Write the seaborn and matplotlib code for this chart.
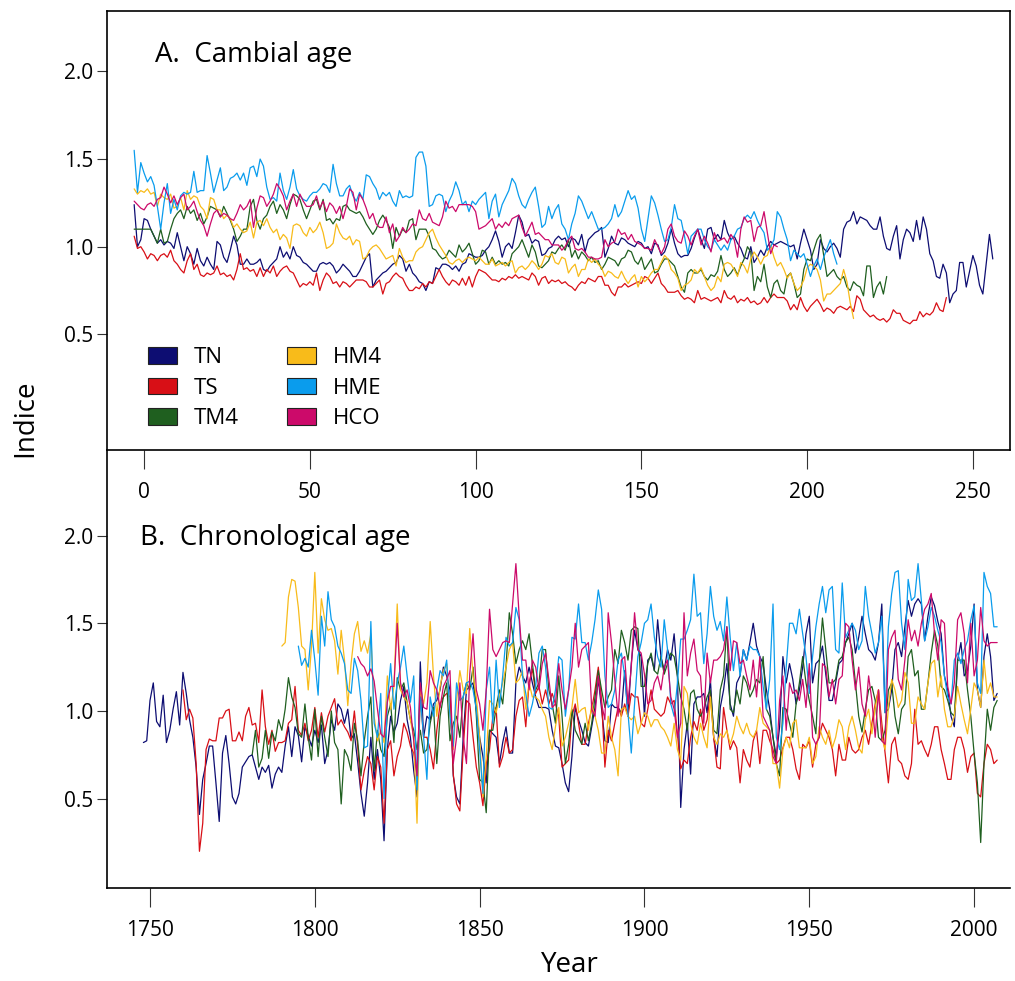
import numpy as np
import pandas as pd
import matplotlib
matplotlib.use('Agg')
import matplotlib.pyplot as plt
from matplotlib.patches import Patch
import seaborn as sns

# --- data ---
series_names = ['TN', 'TS', 'TM4', 'HM4', 'HME', 'HCO']
series_colors = ['#0d0d72', '#d80f16', '#1f5f1f', '#f8bb1a', '#0a9ced', '#cc0a6a']
start_years = [1748, 1760, 1781, 1790, 1795, 1813]   # first year of each chronology
cambial_start = -3                                    # first cambial age of every series

# A. cambial age
tn_cambial = [
    1.24, 1.00, 1.04, 1.16, 1.15, 1.10, 1.06, 1.02, 1.04, 1.01,
    1.03, 1.02, 0.99, 1.08, 1.00, 0.92, 1.00, 0.96, 0.90, 0.99,
    0.92, 0.89, 0.94, 0.90, 0.87, 1.03, 1.01, 0.94, 0.91, 0.98,
    1.06, 1.01, 0.90, 0.90, 0.93, 0.90, 0.90, 0.91, 0.93, 0.87,
    0.86, 0.89, 0.91, 0.93, 1.00, 0.94, 0.97, 0.93, 1.00, 0.95,
    0.94, 0.91, 0.90, 0.88, 0.86, 0.86, 0.90, 0.91, 0.90, 0.91,
    0.89, 0.85, 0.87, 0.90, 0.88, 0.86, 0.83, 0.83, 0.86, 0.90,
    0.94, 0.96, 0.77, 0.81, 0.83, 0.85, 0.86, 0.88, 0.90, 0.91,
    0.95, 0.93, 0.86, 0.90,
    0.85, 0.83, 0.80, 0.79, 0.75, 0.80, 0.79, 0.88, 0.87, 0.90,
    0.90, 0.89, 0.87, 0.89, 0.86, 0.90, 0.91, 0.96, 0.95, 0.94,
    0.94, 0.95, 0.98, 1.00, 1.04, 1.09, 1.03, 0.94, 1.00, 1.02,
    0.99, 1.08, 1.18, 1.14, 1.06, 1.07, 1.02, 1.04, 1.03, 0.95,
    0.96, 0.99, 1.00, 1.04, 1.06, 1.04, 1.05, 1.00, 1.05, 1.04,
    1.01, 1.07, 0.97, 1.04, 1.06, 1.08, 1.09, 1.11, 0.94, 0.99,
    1.06, 1.02, 1.01, 1.05, 1.04, 1.02, 1.01, 1.00, 1.03, 1.02,
    0.99, 1.00, 0.96, 1.02, 1.01, 0.95, 0.97, 1.02, 1.10, 1.02,
    0.96, 0.94, 0.95, 0.95, 0.99, 1.05,
    1.10, 1.04, 0.99, 1.10, 1.11, 1.04, 1.07, 1.04, 1.15, 1.08,
    1.04, 1.06, 1.02, 0.99, 0.94, 0.93, 1.00, 0.91, 0.94, 0.98,
    0.95, 1.00, 1.03, 1.01, 1.02, 1.03, 1.02, 1.01, 1.00, 1.01,
    0.93, 1.02, 1.10, 1.04, 0.98, 0.87, 0.90, 1.04, 0.99, 0.97,
    1.00, 1.02, 0.99, 0.94, 1.10, 1.14, 1.15, 1.20, 1.13, 1.17,
    1.16, 1.15, 1.12, 1.10, 1.10, 1.17, 1.06, 0.99, 0.98, 1.06,
    1.12, 0.93, 1.04, 1.10, 1.08, 1.03, 1.15, 1.04, 1.17, 1.10,
    0.96, 0.92, 0.83, 0.82, 0.90, 0.85, 0.68, 0.73, 0.75, 0.91,
    0.91, 0.77, 0.86, 0.95, 0.89, 0.78, 0.73, 0.90, 1.07, 0.93]
ts_cambial = [
    1.06, 0.99, 1.00, 0.97, 0.93, 0.96, 0.95, 0.92, 0.95, 0.96,
    0.94, 0.98, 0.92, 0.90, 0.87, 0.85, 0.92, 0.96, 0.87, 0.90,
    0.84, 0.83, 0.85, 0.84, 0.85, 0.89, 0.84, 0.85, 0.83, 0.84,
    0.81, 0.87, 0.96, 0.87, 0.88, 0.86, 0.87, 0.83, 0.88, 0.83,
    0.87, 0.85, 0.89, 0.83, 0.86, 0.88, 0.89, 0.86, 0.85, 0.81,
    0.77, 0.79, 0.78, 0.80, 0.78, 0.85, 0.75, 0.81, 0.85, 0.83,
    0.79, 0.80, 0.77, 0.80, 0.79, 0.77, 0.79, 0.81, 0.81, 0.81,
    0.80, 0.77, 0.77, 0.79, 0.81, 0.73, 0.79, 0.80, 0.83, 0.85,
    0.83, 0.82, 0.78, 0.75,
    0.75, 0.77, 0.76, 0.79, 0.77, 0.80, 0.79, 0.83, 0.87, 0.83,
    0.80, 0.78, 0.81, 0.80, 0.78, 0.82, 0.78, 0.83, 0.77, 0.83,
    0.87, 0.86, 0.85, 0.83, 0.81, 0.81, 0.80, 0.82, 0.81, 0.83,
    0.82, 0.84, 0.82, 0.83, 0.82, 0.81, 0.85, 0.83, 0.78, 0.82,
    0.83, 0.79, 0.81, 0.80, 0.81, 0.79, 0.80, 0.78, 0.77, 0.75,
    0.78, 0.80, 0.79, 0.82, 0.81, 0.80, 0.83, 0.83, 0.78, 0.78,
    0.74, 0.72, 0.77, 0.77, 0.79, 0.77, 0.78, 0.79, 0.80, 0.79,
    0.83, 0.82, 0.79, 0.82, 0.85, 0.79, 0.77, 0.74, 0.74, 0.74,
    0.75, 0.72, 0.70, 0.71, 0.70, 0.68,
    0.75, 0.70, 0.71, 0.70, 0.69, 0.70, 0.71, 0.68, 0.75, 0.71,
    0.70, 0.72, 0.68, 0.70, 0.69, 0.71, 0.68, 0.69, 0.67, 0.68,
    0.71, 0.68, 0.71, 0.73, 0.71, 0.71, 0.71, 0.69, 0.64, 0.67,
    0.64, 0.71, 0.66, 0.63, 0.66, 0.68, 0.70, 0.67, 0.63, 0.65,
    0.64, 0.62, 0.65, 0.66, 0.65, 0.64, 0.66, 0.63, 0.72, 0.70,
    0.64, 0.62, 0.60, 0.61, 0.59, 0.58, 0.59, 0.57, 0.59, 0.64,
    0.62, 0.62, 0.58, 0.57, 0.56, 0.58, 0.58, 0.63, 0.60, 0.62,
    0.61, 0.63, 0.68, 0.64, 0.63, 0.71]
tm4_cambial = [
    1.10, 1.10, 1.10, 1.10, 1.10, 1.10, 1.06, 1.02, 1.10, 1.02,
    1.03, 1.10, 1.16, 1.19, 1.21, 1.16, 1.23, 1.19, 1.21, 1.15,
    1.19, 1.13, 1.17, 1.23, 1.22, 1.21, 1.17, 1.23, 1.19, 1.15,
    1.10, 1.03, 1.06, 1.10, 1.10, 1.23, 1.27, 1.15, 1.10, 1.16,
    1.18, 1.23, 1.26, 1.19, 1.24, 1.21, 1.16, 1.24, 1.30, 1.29,
    1.27, 1.21, 1.16, 1.21, 1.26, 1.27, 1.21, 1.27, 1.15, 1.16,
    1.13, 1.16, 1.15, 1.23, 1.24, 1.21, 1.20, 1.19, 1.20, 1.17,
    1.13, 1.10, 1.07, 1.10, 1.15, 1.18, 1.15, 1.11, 0.99, 1.11,
    1.06, 1.10, 1.08, 1.15,
    1.16, 1.04, 1.10, 1.10, 1.10, 1.06, 0.99, 0.98, 0.95, 0.93,
    0.94, 0.98, 0.96, 0.94, 1.01, 0.97, 0.99, 1.02, 0.96, 0.90,
    0.92, 0.98, 0.97, 0.90, 0.94, 0.90, 0.92, 0.90, 0.91, 0.89,
    0.96, 0.98, 1.00, 1.04, 0.99, 0.94, 1.01, 0.97, 0.89, 0.88,
    0.90, 0.92, 0.97, 0.96, 0.99, 1.01, 0.98, 1.04, 0.94, 0.98,
    0.93, 0.97, 0.95, 0.92, 0.94, 0.91, 0.92, 0.87, 0.90, 0.94,
    0.93, 0.92, 0.89, 0.93, 0.94, 0.98, 0.97, 0.92, 0.90, 0.94,
    0.87, 0.90, 0.93, 0.85, 0.86, 0.90, 0.93, 0.93, 0.91, 0.89,
    0.83, 0.77, 0.74, 0.85, 0.87, 0.85,
    0.85, 0.87, 0.83, 0.81, 0.84, 0.83, 0.86, 0.95, 0.87, 0.83,
    0.85, 0.88, 0.84, 0.89, 0.93, 1.00, 0.97, 0.75, 0.83, 0.80,
    0.90, 0.77, 0.71, 0.79, 0.81, 0.75, 0.73, 0.83, 0.85, 0.79,
    0.71, 0.73, 0.87, 0.93, 0.92, 0.98, 1.04, 1.07, 0.95, 0.83,
    0.85, 0.87, 0.83, 0.81, 0.83, 0.77, 0.75, 0.80, 0.78, 0.77,
    0.72, 0.89, 0.89, 0.71, 0.77, 0.80, 0.73, 0.83]
hm4_cambial = [
    1.33, 1.30, 1.32, 1.31, 1.33, 1.30, 1.31, 1.23, 1.30, 1.28,
    1.27, 1.30, 1.22, 1.23, 1.28, 1.21, 1.32, 1.27, 1.29, 1.28,
    1.23, 1.21, 1.16, 1.28, 1.27, 1.21, 1.21, 1.16, 1.18, 1.16,
    1.11, 1.13, 1.10, 1.08, 1.09, 1.14, 1.05, 1.14, 1.15, 1.12,
    1.16, 1.11, 1.08, 1.10, 1.04, 1.07, 1.05, 0.99, 1.12, 1.13,
    1.12, 1.08, 1.06, 1.11, 1.08, 1.10, 1.14, 1.08, 0.99, 1.00,
    1.02, 1.13, 1.08, 1.05, 1.04, 1.06, 1.01, 1.04, 1.03, 0.93,
    0.94, 0.98, 1.00, 1.01, 0.99, 0.96, 0.93, 0.94, 0.95, 0.89,
    0.99, 0.94, 0.91, 0.92,
    0.92, 0.97, 0.99, 1.00, 1.04, 1.08, 1.10, 1.05, 1.01, 0.98,
    0.95, 0.91, 0.90, 0.92, 0.93, 0.91, 0.93, 0.94, 0.93, 0.92,
    0.94, 0.92, 0.90, 0.90, 0.93, 0.89, 0.90, 0.91, 0.89, 0.91,
    0.92, 0.85, 0.88, 0.89, 0.87, 0.89, 0.92, 0.90, 0.87, 0.90,
    0.95, 0.94, 0.96, 0.91, 0.90, 0.94, 0.93, 0.85, 0.88, 0.90,
    0.83, 0.87, 0.87, 0.93, 0.91, 0.93, 0.90, 0.88, 0.83, 0.86,
    0.85, 0.83, 0.82, 0.86, 0.82, 0.79, 0.82, 0.84, 0.77, 0.83,
    0.80, 0.82, 0.85, 0.87, 0.87, 0.91, 0.95, 0.93, 0.87, 0.85,
    0.82, 0.75, 0.78, 0.79, 0.81, 0.87,
    0.85, 0.88, 0.83, 0.78, 0.75, 0.77, 0.83, 0.80, 0.90, 0.91,
    0.90, 0.87, 0.83, 0.91, 0.89, 0.85, 0.93, 0.97, 0.94, 0.90,
    0.94, 0.95, 1.01, 0.94, 0.89, 0.91, 0.87, 0.82, 0.85, 0.79,
    0.75, 0.77, 0.81, 0.88, 0.90, 0.89, 0.87, 0.81, 0.69, 0.73,
    0.73, 0.75, 0.77, 0.79, 0.87, 0.80, 0.68, 0.59]
hme_cambial = [
    1.55, 1.31, 1.48, 1.42, 1.37, 1.40, 1.35, 1.23, 1.10, 1.25,
    1.36, 1.19, 1.27, 1.21, 1.29, 1.31, 1.30, 1.31, 1.43, 1.31,
    1.32, 1.32, 1.52, 1.42, 1.31, 1.38, 1.45, 1.32, 1.34, 1.39,
    1.40, 1.42, 1.38, 1.42, 1.35, 1.45, 1.46, 1.40, 1.50, 1.46,
    1.34, 1.27, 1.28, 1.26, 1.42, 1.32, 1.27, 1.34, 1.44, 1.33,
    1.29, 1.27, 1.26, 1.29, 1.31, 1.31, 1.33, 1.36, 1.35, 1.31,
    1.47, 1.36, 1.29, 1.29, 1.33, 1.35, 1.29, 1.26, 1.31, 1.27,
    1.41, 1.40, 1.36, 1.33, 1.27, 1.31, 1.29, 1.31, 1.26, 1.23,
    1.32, 1.28, 1.29, 1.28, 1.29, 1.51, 1.54, 1.54, 1.46, 1.23,
    1.24, 1.29, 1.30, 1.29, 1.20, 1.26, 1.30, 1.37, 1.32, 1.24,
    1.26, 1.20, 1.26, 1.24, 1.27, 1.29, 1.31, 1.16, 1.26, 1.30,
    1.17, 1.24, 1.28, 1.32, 1.39, 1.36, 1.29, 1.24, 1.22, 1.27,
    1.31, 1.34, 1.23, 1.11, 1.13, 1.23, 1.16, 1.21, 1.24, 1.13,
    1.10, 1.04, 1.13, 1.19, 1.29, 1.26, 1.21, 1.16, 1.20, 1.15,
    1.10, 1.10, 1.11, 1.13, 1.16, 1.24, 1.17, 1.20, 1.26, 1.32,
    1.27, 1.29, 1.22, 1.10, 1.03, 1.16, 1.29, 1.25, 1.18, 1.10,
    1.03, 1.04, 1.11, 1.24, 1.16, 1.15, 1.06, 0.96, 1.06, 1.08,
    1.10, 1.10, 1.04, 1.00, 0.98, 1.04, 1.01, 0.98, 1.01, 0.98,
    1.04, 1.06, 1.10, 1.11, 1.16, 1.18, 1.16, 1.20, 1.15, 1.11,
    1.08, 0.98, 1.00, 1.04, 1.20, 1.17, 1.10, 1.04, 0.92, 0.98,
    0.96, 0.94, 0.96, 0.90, 0.83, 0.89, 0.93, 0.87, 0.94, 0.99,
    1.04, 0.96, 0.90]
hco_cambial = [
    1.26, 1.24, 1.22, 1.21, 1.24, 1.25, 1.23, 1.27, 1.28, 1.34,
    1.30, 1.25, 1.29, 1.24, 1.28, 1.30, 1.21, 1.23, 1.26, 1.20,
    1.15, 1.12, 1.06, 1.13, 1.19, 1.21, 1.17, 1.19, 1.18, 1.16,
    1.15, 1.19, 1.24, 1.21, 1.23, 1.27, 1.11, 1.22, 1.29, 1.28,
    1.23, 1.26, 1.30, 1.36, 1.33, 1.29, 1.21, 1.26, 1.30, 1.23,
    1.30, 1.26, 1.23, 1.23, 1.24, 1.29, 1.22, 1.26, 1.20, 1.25,
    1.23, 1.19, 1.23, 1.16, 1.23, 1.33, 1.31, 1.21, 1.30, 1.27,
    1.22, 1.16, 1.19, 1.13, 1.11, 1.11, 1.17, 1.08, 1.13, 1.03,
    1.06, 1.11, 1.08, 1.10,
    1.13, 1.12, 1.21, 1.16, 1.15, 1.19, 1.14, 1.13, 1.12, 1.17,
    1.26, 1.22, 1.23, 1.20, 1.24, 1.24, 1.24, 1.24, 1.23, 1.20,
    1.10, 1.11, 1.12, 1.14, 1.16, 1.10, 1.13, 1.11, 1.14, 1.12,
    1.16, 1.17, 1.18, 1.11, 1.06, 1.10, 1.14, 1.07, 1.08, 1.06,
    1.04, 1.04, 1.01, 1.01, 1.01, 0.98, 1.00, 1.04, 1.06, 0.99,
    0.98, 0.99, 0.97, 0.94, 0.94, 0.93, 0.93, 0.94, 1.04, 1.00,
    1.02, 1.03, 1.10, 1.07, 1.08, 1.04, 1.07, 1.03, 1.02, 1.01,
    0.99, 0.99, 0.98, 1.04, 1.00, 0.96, 1.00, 1.10, 1.13, 1.06,
    1.03, 1.02, 1.09, 1.06, 1.01, 1.06,
    1.10, 1.01, 1.06, 1.02, 0.97, 1.08, 1.03, 1.04, 1.05, 1.02,
    1.07, 1.04, 0.94, 1.10, 1.17, 1.14, 1.15, 1.03, 1.11, 1.12,
    1.20, 1.08, 0.96, 1.01, 1.00]

# B. chronological age (calendar years, all ending in 2007)
tn_chrono = [
    0.82, 0.83, 1.06, 1.16, 0.94, 0.91, 1.09, 0.82, 0.89, 1.01,
    1.11, 0.92, 1.22, 1.10, 0.95, 0.85, 0.68, 0.41, 0.61, 0.70,
    0.80, 0.80, 0.59, 0.37, 0.76, 0.86, 0.70, 0.51, 0.47, 0.53,
    0.68, 0.71, 0.74, 0.75, 0.68, 0.61, 0.68, 0.65, 0.69, 0.56,
    0.64, 0.68, 0.65, 0.80, 0.91, 0.74, 0.91, 0.86, 0.71, 0.91,
    0.86, 0.80, 0.89, 0.82, 0.92, 0.70, 0.78, 0.95, 0.89, 1.04,
    1.01, 0.93, 1.01, 0.84, 0.87, 0.71, 0.53, 0.40, 0.59, 0.85,
    0.61, 0.78, 0.61, 0.26, 0.78, 0.97, 0.88, 0.93, 1.06, 1.14,
    0.95, 0.85,
    0.66, 0.51, 1.28, 0.85, 0.97, 0.95, 1.04, 1.06, 1.12, 1.25,
    1.20, 1.12, 0.63, 0.51, 0.47, 0.85, 1.12, 1.14, 1.16, 1.01,
    0.85, 0.74, 0.59, 0.89, 0.87, 0.85, 0.70, 0.82, 0.91, 0.76,
    0.76, 1.16, 1.25, 1.20, 1.16, 1.25, 1.16, 1.08, 1.02, 1.02,
    1.02, 1.01, 0.89, 0.80, 0.79, 0.70, 0.59, 0.54, 0.74, 1.02,
    0.95, 0.89, 0.82, 0.80, 0.91, 1.02, 1.18, 1.01, 0.83, 0.82,
    1.04, 1.02, 1.02, 0.99, 1.23, 0.97, 1.27, 1.46, 1.35, 1.31,
    0.97, 1.29, 1.31, 1.23, 1.52, 1.31, 1.23, 1.35, 1.29, 1.44,
    1.20, 0.45, 0.78, 0.93, 0.64, 1.04, 1.08,
    1.08, 1.10, 0.99, 1.18, 0.85, 0.74, 1.02, 1.12, 1.27, 1.04,
    0.97, 1.16, 1.20, 1.35, 1.29, 1.39, 1.50, 1.37, 1.31, 1.27,
    1.12, 1.01, 0.85, 0.74, 0.91, 1.31, 1.16, 1.27, 1.18, 1.04,
    1.12, 1.25, 1.44, 1.54, 1.16, 1.27, 1.29, 1.37, 1.21, 1.06,
    1.06, 1.16, 1.27, 1.29, 1.39, 1.44, 1.50, 1.33, 1.42, 1.54,
    1.44, 1.35, 1.33, 1.29, 1.39, 1.61, 0.99, 1.01, 1.12, 1.35,
    1.39, 1.31, 1.48, 1.63, 1.54, 1.61, 1.64, 1.61, 1.40, 1.54,
    1.65, 1.60, 1.51, 1.44, 1.20, 1.12, 0.97, 0.91, 1.29, 1.39,
    1.20, 1.23, 1.37, 1.61, 1.12, 1.02, 1.31, 1.44, 1.31, 1.06,
    1.10]
ts_chrono = [
    1.12, 0.95, 1.01, 0.96, 0.70, 0.20, 0.36, 0.78, 0.84, 0.83,
    0.83, 0.96, 0.96, 1.00, 1.01, 0.83, 0.83, 0.88, 0.83, 0.97,
    1.02, 0.92, 0.93, 0.82, 1.12, 0.91, 0.81, 0.89, 0.77, 0.82,
    0.82, 0.83, 0.93, 0.95, 1.14, 0.89, 0.86, 0.93, 0.83, 0.89,
    1.02, 0.85, 0.99, 0.88, 0.97, 1.02, 1.07, 0.92, 0.95, 0.91,
    0.88, 0.83, 1.00, 0.80, 0.55, 0.66, 0.74, 0.70, 0.55, 0.74,
    0.68, 0.36, 0.78, 0.83, 0.63, 0.74, 0.80, 0.93,
    0.88, 0.80,
    0.76, 0.63, 1.08, 0.85, 0.85, 0.78, 0.67, 0.89, 1.04, 1.08,
    1.10, 1.08, 0.64, 0.47, 0.43, 0.78, 1.06, 1.04, 0.85, 0.68,
    0.59, 0.46, 0.70, 0.78, 0.97, 1.02, 0.68, 0.74, 0.85, 0.76,
    0.78, 0.97, 1.06, 1.08, 0.91, 1.16, 1.24, 1.10, 1.14, 1.04,
    1.12, 1.04, 1.10, 1.04, 0.97, 0.68, 0.70, 0.72, 0.97, 1.04,
    0.93, 0.81, 0.81, 0.93, 1.01, 1.12, 1.25, 1.06, 0.68, 0.89,
    0.83, 0.93, 1.02, 0.97, 1.04, 0.97, 1.10, 1.08, 1.08, 0.93,
    0.91, 1.01, 1.12, 1.01, 0.99, 0.97, 0.99, 1.08, 1.04, 1.06,
    0.87, 0.67, 0.72, 0.70, 0.85, 0.94, 0.89,
    1.01, 0.89, 0.95, 1.10, 0.85, 0.68, 0.67, 1.02, 0.89, 0.78,
    0.83, 0.79, 0.59, 0.78, 0.72, 0.68, 0.83, 0.89, 0.70, 0.89,
    0.89, 0.83, 0.78, 0.70, 0.72, 0.79, 0.85, 0.85, 0.78, 0.67,
    0.61, 0.81, 0.79, 0.83, 0.68, 0.81, 0.85, 0.93, 0.89, 0.85,
    0.78, 0.63, 0.81, 0.72, 0.72, 0.85, 0.78, 0.76, 0.78, 0.85,
    0.89, 0.81, 0.93, 1.04, 1.12, 0.93, 0.76, 0.59, 0.81, 0.85,
    0.72, 0.70, 0.63, 0.61, 0.70, 1.01, 0.81, 0.83, 0.78, 0.74,
    0.81, 0.91, 0.91, 0.78, 0.70, 0.61, 0.61, 0.78, 0.85, 0.85,
    0.78, 0.65, 0.74, 0.76, 0.53, 0.51, 0.70, 0.81, 0.78, 0.70,
    0.72]
tm4_chrono = [
    0.75, 0.89, 0.68, 0.73, 0.89, 0.73, 0.88, 0.83, 0.95, 0.89,
    1.01, 1.19, 1.08, 1.02, 0.87, 0.85, 1.04, 0.85, 0.72, 1.01,
    0.74, 0.97, 0.85, 0.74, 1.00, 0.82, 0.78, 0.47, 0.78, 0.74,
    0.66, 0.93, 0.83, 0.63, 0.83, 0.97, 1.08, 0.66, 0.89, 0.78,
    0.74, 0.97, 1.04, 0.82, 1.19, 1.12, 1.16,
    1.05, 0.95,
    0.89, 0.78, 0.89, 0.76, 0.78, 0.93, 1.02, 0.70, 0.97, 1.08,
    1.16, 0.83, 0.93, 0.97, 0.85, 1.08, 1.16, 1.12, 1.25, 0.97,
    0.61, 0.59, 0.42, 0.89, 0.89, 1.02, 1.12, 1.04, 1.25, 1.56,
    1.44, 1.27, 1.35, 1.40, 1.35, 1.44, 1.27, 1.12, 1.16, 1.35,
    1.35, 1.12, 1.04, 0.93, 1.20, 0.97, 0.70, 0.81, 1.01, 0.89,
    0.85, 0.81, 0.93, 0.83, 0.93, 1.08, 1.23, 1.12, 1.02, 1.08,
    1.12, 1.35, 1.27, 1.46, 1.39, 1.29, 1.46, 1.48, 1.47, 1.14,
    1.14, 1.27, 1.33, 1.23, 1.21, 1.31, 1.21, 1.27, 1.33, 1.31,
    1.20, 1.08, 1.01, 0.89, 1.10, 1.12, 1.01,
    0.97, 1.01, 1.08, 1.12, 0.89, 0.87, 1.12, 1.20, 1.48, 1.01,
    0.99, 1.12, 1.04, 1.20, 1.16, 1.08, 1.12, 1.18, 1.16, 1.31,
    1.01, 0.97, 0.85, 0.70, 0.63, 1.02, 1.01, 0.93, 0.85, 1.04,
    1.16, 1.31, 1.16, 1.06, 0.97, 0.87, 1.27, 1.53, 1.35, 1.16,
    1.16, 1.18, 1.29, 1.31, 1.39, 1.42, 1.35, 1.16, 0.97, 0.88,
    1.01, 1.12, 1.14, 1.06, 0.85, 0.83, 0.89, 1.12, 1.16, 0.97,
    0.87, 1.01, 1.04, 1.31, 1.35, 1.20, 1.23, 1.01, 1.01, 1.16,
    1.33, 1.46, 1.37, 1.14, 1.12, 1.06, 0.99, 0.97, 1.29, 1.29,
    1.29, 1.12, 0.97, 0.76, 0.59, 0.25, 0.70, 1.01, 0.89, 1.02,
    1.06]
hm4_chrono = [
    1.37, 1.39, 1.65, 1.75, 1.74, 1.59, 1.37, 1.35, 1.12, 1.37,
    1.79, 1.33, 1.64, 1.52, 1.46, 1.47, 1.40, 1.21, 1.46, 1.29,
    1.03, 1.27, 1.44, 1.51, 1.34, 1.40, 1.33, 1.44, 0.97, 0.83,
    0.89, 0.82, 1.20, 1.01, 1.14, 1.61, 1.12, 1.08,
    1.05, 0.95,
    0.85, 0.36, 1.12, 1.04, 1.16, 1.51, 1.20, 0.97, 1.14, 1.23,
    1.27, 0.97, 0.78, 1.06, 1.23, 1.12, 1.10, 1.47, 1.20, 1.08,
    0.85, 0.51, 0.74, 1.06, 1.04, 0.99, 1.08, 1.16, 1.25, 1.35,
    1.39, 1.16, 1.18, 1.23, 1.01, 1.16, 1.08, 1.08, 1.06, 1.01,
    0.97, 0.85, 0.78, 0.91, 1.02, 0.80, 0.85, 0.93, 1.02, 1.18,
    0.99, 1.01, 1.02, 0.89, 1.04, 0.97, 0.89, 0.76, 0.76, 0.97,
    0.85, 0.78, 0.63, 1.01, 1.02, 0.97, 0.95, 0.97, 0.87, 0.93,
    0.99, 0.97, 0.91, 0.95, 0.95, 0.91, 0.89, 0.85, 0.80, 0.93,
    0.78, 0.72, 1.14, 1.10, 0.93, 0.85, 0.81,
    0.93, 0.85, 0.79, 1.08, 0.85, 0.81, 0.87, 0.85, 0.89, 0.81,
    0.87, 0.97, 0.91, 0.87, 0.93, 0.87, 0.85, 0.89, 1.02, 0.93,
    0.91, 0.89, 0.70, 0.70, 0.56, 0.78, 0.85, 0.79, 0.93, 0.95,
    0.79, 0.79, 0.79, 0.85, 0.70, 0.74, 0.91, 0.85, 0.81, 0.89,
    0.79, 0.85, 0.95, 0.91, 0.78, 0.91, 0.97, 0.89, 0.79, 0.76,
    0.95, 1.01, 0.87, 1.02, 1.12, 0.85, 0.78, 1.02, 1.18, 1.12,
    1.02, 1.06, 1.22, 1.16, 0.93, 0.93, 1.08, 1.04, 1.01, 1.16,
    1.27, 1.29, 1.08, 1.20, 1.01, 0.91, 0.91, 0.97, 1.14, 1.04,
    0.95, 0.87, 1.01, 1.16, 1.12, 1.02, 1.29, 1.10, 1.16, 1.08,
    1.08]
hme_chrono = [
    1.37, 1.26, 1.30, 1.25, 1.46, 1.29, 1.09, 1.54, 1.37, 1.68,
    1.52, 1.48, 1.37, 1.33, 1.27, 1.12, 1.10, 1.30, 1.23, 1.06,
    0.79, 0.80, 1.51, 0.93, 0.85, 1.10, 0.50, 1.06, 1.27, 1.01,
    1.16, 1.25, 1.37,
    1.20, 1.05,
    1.20, 0.55, 1.08, 0.85, 0.61, 1.08, 0.97, 1.12, 1.23, 1.20,
    1.29, 0.97, 0.80, 1.16, 1.06, 1.08, 1.16, 1.17, 1.12, 1.01,
    0.78, 0.53, 1.12, 1.25, 0.93, 1.29, 1.02, 1.20, 1.42, 1.37,
    1.39, 1.59, 1.52, 1.20, 1.10, 0.97, 1.04, 1.14, 1.33, 1.37,
    1.25, 1.02, 1.01, 1.12, 1.31, 1.29, 0.97, 1.12, 1.42, 1.41,
    1.61, 1.39, 1.39, 1.29, 1.39, 1.52, 1.69, 1.58, 1.20, 1.02,
    1.04, 1.12, 1.29, 1.33, 1.20, 0.99, 0.76, 1.04, 1.31, 1.39,
    1.50, 1.52, 1.61, 1.42, 1.31, 1.25, 1.52, 1.35, 1.04, 0.97,
    1.16, 1.41, 1.41, 1.46, 1.52, 1.78, 1.54,
    1.56, 1.27, 1.44, 1.71, 1.54, 1.46, 1.51, 1.40, 1.65, 1.42,
    1.23, 1.39, 1.20, 1.35, 1.29, 1.37, 1.35, 1.35, 1.31, 1.14,
    1.01, 1.18, 1.61, 0.85, 0.78, 0.93, 1.25, 1.50, 1.50, 1.44,
    1.58, 1.44, 1.31, 1.10, 1.31, 1.48, 1.61, 1.71, 1.56, 1.69,
    1.71, 1.35, 1.33, 1.73, 1.42, 1.46, 1.50, 1.46, 1.35, 1.40,
    1.71, 1.54, 1.44, 1.33, 1.39, 1.54, 0.99, 1.48, 1.67, 1.79,
    1.80, 1.50, 1.35, 1.75, 1.63, 1.65, 1.84, 1.63, 1.40, 1.48,
    1.59, 1.54, 1.46, 1.39, 1.20, 1.08, 1.04, 1.29, 1.33, 1.27,
    1.35, 1.40, 1.52, 1.60, 1.16, 1.10, 1.79, 1.71, 1.67, 1.48,
    1.48]
hco_chrono = [
    1.31, 1.27, 1.25, 1.20, 1.24, 1.17, 1.01, 0.87, 0.85, 1.05,
    1.14, 1.14, 1.50, 1.16, 1.08,
    1.12, 1.02,
    0.83, 0.63, 1.16, 1.02, 1.01, 1.23, 1.16, 1.12, 1.02, 1.14,
    1.18, 1.23, 0.70, 0.85, 1.16, 0.85, 0.70, 1.21, 1.44, 1.12,
    1.04, 0.89, 1.12, 1.58, 1.35, 1.31, 1.35, 1.39, 1.40, 1.39,
    1.61, 1.84, 1.54, 1.29, 1.29, 1.12, 1.29, 1.25, 1.12, 1.27,
    1.33, 1.18, 1.02, 1.04, 1.27, 1.12, 1.01, 1.12, 1.25, 1.50,
    1.25, 1.35, 1.37, 1.39, 1.01, 0.97, 1.20, 1.04, 0.95, 1.56,
    1.39, 1.18, 0.97, 1.29, 1.31, 1.04, 1.25, 1.56, 1.35, 1.33,
    1.21, 1.04, 1.06, 1.16, 1.20, 1.12, 1.25, 1.29, 1.08, 1.01,
    0.85, 0.93, 1.56, 1.20, 1.33, 1.41, 1.23,
    1.20, 0.93, 1.33, 1.16, 1.29, 1.29, 1.31, 1.35, 1.48, 1.23,
    1.40, 1.39, 1.27, 1.29, 1.20, 1.12, 1.29, 1.08, 1.31, 0.97,
    0.93, 0.89, 0.74, 0.70, 1.06, 1.20, 0.89, 1.16, 1.10, 1.12,
    1.06, 1.18, 1.02, 1.27, 0.85, 0.81, 0.85, 1.27, 1.25, 1.08,
    1.18, 1.04, 1.18, 1.20, 1.50, 1.48, 1.29, 1.12, 1.25, 1.04,
    0.97, 1.20, 1.06, 0.85, 1.12, 0.83, 0.81, 1.35, 1.42, 1.46,
    1.18, 1.12, 1.29, 1.52, 1.40, 1.46, 1.37, 1.50, 1.58, 1.61,
    1.67, 1.44, 1.29, 1.52, 1.50, 1.14, 1.04, 1.16, 1.52, 1.56,
    1.44, 1.16, 1.50, 1.20, 1.29, 1.59, 1.40, 1.37, 1.39, 1.39,
    1.39]

cambial_series = [tn_cambial, ts_cambial, tm4_cambial, hm4_cambial, hme_cambial, hco_cambial]
chrono_series = [tn_chrono, ts_chrono, tm4_chrono, hm4_chrono, hme_chrono, hco_chrono]

# long-form tables for seaborn
rows_a, rows_b = [], []
for name, vals in zip(series_names, cambial_series):
    ages = np.arange(len(vals)) + cambial_start
    rows_a.append(pd.DataFrame({'age': ages, 'indice': vals, 'serie': name}))
for name, start, vals in zip(series_names, start_years, chrono_series):
    years = np.arange(len(vals)) + start
    rows_b.append(pd.DataFrame({'year': years, 'indice': vals, 'serie': name}))
df_a = pd.concat(rows_a, ignore_index=True)
df_b = pd.concat(rows_b, ignore_index=True)
palette = dict(zip(series_names, series_colors))

sns.set_style('ticks')
plt.rcParams['font.family'] = ['Open Sans', 'DejaVu Sans']
plt.rcParams['text.color'] = 'black'

fig = plt.figure(figsize=(10.15, 9.81), dpi=100)
ax_b = fig.add_axes([0.1054, 0.0945, 0.8897, 0.4468])
ax_a = fig.add_axes([0.1054, 0.5413, 0.8897, 0.4475])

sns.lineplot(data=df_a, x='age', y='indice', hue='serie', hue_order=series_names,
             palette=palette, estimator=None, lw=0.9, legend=False, ax=ax_a)
sns.lineplot(data=df_b, x='year', y='indice', hue='serie', hue_order=series_names,
             palette=palette, estimator=None, lw=0.9, legend=False, ax=ax_b)

# panel A
ax_a.set_xlim(-11.2, 261.2)
ax_a.set_ylim(-0.16, 2.345)
ax_a.set_xticks([0, 50, 100, 150, 200, 250])
ax_a.set_yticks([0.5, 1.0, 1.5, 2.0])
ax_a.set_yticklabels(['0.5', '1.0', '1.5', '2.0'])
ax_a.set_xlabel('')
ax_a.set_ylabel('')
ax_a.text(0.053, 0.90, 'A.  Cambial age', transform=ax_a.transAxes,
          fontsize=20, va='center', ha='left')

# panel B
ax_b.set_xlim(1736.95, 2010.9)
ax_b.set_ylim(-0.011, 2.488)
ax_b.set_xticks([1750, 1800, 1850, 1900, 1950, 2000])
ax_b.set_yticks([0.5, 1.0, 1.5, 2.0])
ax_b.set_yticklabels(['0.5', '1.0', '1.5', '2.0'])
ax_b.set_xlabel('')
ax_b.set_ylabel('')
ax_b.text(0.0365, 0.80, 'B.  Chronological age', transform=ax_b.transAxes,
          fontsize=20, va='center', ha='left')

for ax in (ax_a, ax_b):
    for side in ('left', 'right', 'top', 'bottom'):
        ax.spines[side].set_color('black')
        ax.spines[side].set_linewidth(1.2)
    ax.tick_params(axis='x', direction='out', length=14, width=0.8,
                   labelsize=15, pad=9, color='#333333', labelcolor='black')
    ax.tick_params(axis='y', direction='out', length=7, width=0.8,
                   labelsize=15, pad=3, color='#333333', labelcolor='black')
ax_b.spines['right'].set_visible(False)
ax_b.spines['top'].set_visible(False)
# let panel A's x tick labels show through onto panel B
ax_a.set_facecolor('white')
ax_b.set_facecolor('none')

handles = [Patch(facecolor=c, edgecolor='#222222', lw=0.8, label=n)
           for n, c in zip(series_names, series_colors)]
ax_a.legend(handles=handles, loc='upper left', bbox_to_anchor=(0.0454, 0.234),
            ncol=2, frameon=False, fontsize=16, handlelength=1.3, handleheight=0.77,
            handletextpad=0.75, labelspacing=0.42, columnspacing=2.2,
            borderaxespad=0, borderpad=0)

fig.text(570 / 1015, 1 - 965 / 981, 'Year', fontsize=20, ha='center', va='center')
fig.text(25 / 1015, 1 - 418 / 981, 'Indice', fontsize=20, ha='center', va='center',
         rotation=90)

fig.patch.set_facecolor('white')
fig.savefig('out.png', dpi=100, facecolor='white')
